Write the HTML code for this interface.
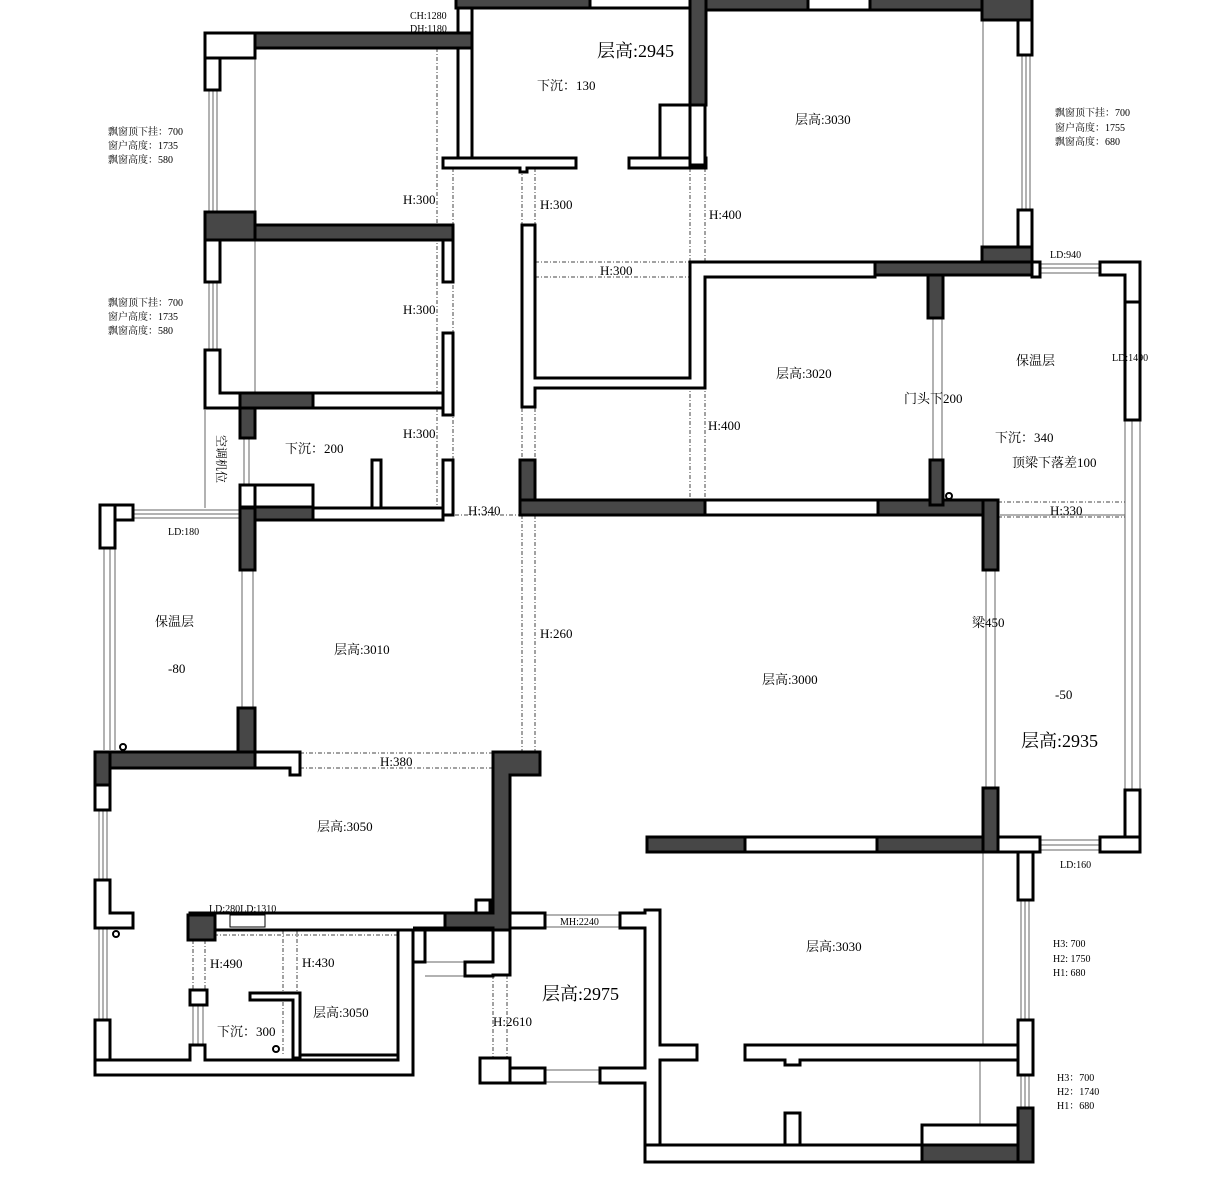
<!DOCTYPE html>
<html><head><meta charset="utf-8"><style>
body{margin:0;background:#fff}
svg{display:block}
.w{fill:#fff;stroke:#000;stroke-width:3}
.d{fill:#474747;stroke:#000;stroke-width:3}
.th{stroke:#666;stroke-width:1;fill:none}
.ds{stroke:#444;stroke-width:1;fill:none;stroke-dasharray:4 2 1 2}
text{font-family:"Liberation Serif","Noto Serif CJK SC",serif;fill:#000;font-size:13px}
.s{font-size:10px}
.b{font-size:18px}
</style></head><body>
<svg width="1221" height="1182" viewBox="0 0 1221 1182" xmlns="http://www.w3.org/2000/svg">
<!-- thin lines / windows -->
<g class="th">
<line x1="983" y1="10" x2="983" y2="248"/>
<line x1="1022" y1="55" x2="1022" y2="210"/><line x1="1026" y1="55" x2="1026" y2="210"/><line x1="1030" y1="55" x2="1030" y2="210"/>
<line x1="209" y1="90" x2="209" y2="212"/><line x1="213" y1="90" x2="213" y2="212"/><line x1="217" y1="90" x2="217" y2="212"/>
<line x1="255" y1="58" x2="255" y2="212"/>
<line x1="209" y1="282" x2="209" y2="350"/><line x1="213" y1="282" x2="213" y2="350"/><line x1="217" y1="282" x2="217" y2="350"/>
<line x1="255" y1="240" x2="255" y2="393"/>
<line x1="205" y1="410" x2="205" y2="508"/>
<line x1="244" y1="438" x2="244" y2="485"/><line x1="249" y1="438" x2="249" y2="485"/>
<line x1="1032" y1="264" x2="1100" y2="264"/><line x1="1032" y1="268" x2="1100" y2="268"/><line x1="1032" y1="273" x2="1100" y2="273"/>
<line x1="1125" y1="420" x2="1125" y2="790"/><line x1="1132" y1="420" x2="1132" y2="790"/><line x1="1140" y1="420" x2="1140" y2="790"/>
<line x1="933" y1="318" x2="933" y2="460"/><line x1="942" y1="318" x2="942" y2="460"/>
<line x1="133" y1="510" x2="240" y2="510"/><line x1="133" y1="514" x2="240" y2="514"/><line x1="133" y1="518" x2="240" y2="518"/>
<line x1="104" y1="548" x2="104" y2="750"/><line x1="110" y1="548" x2="110" y2="750"/><line x1="115" y1="548" x2="115" y2="750"/>
<line x1="242" y1="570" x2="242" y2="708"/><line x1="253" y1="570" x2="253" y2="708"/>
<line x1="986" y1="570" x2="986" y2="790"/><line x1="995" y1="570" x2="995" y2="790"/>
<line x1="99" y1="810" x2="99" y2="880"/><line x1="103" y1="810" x2="103" y2="880"/><line x1="107" y1="810" x2="107" y2="880"/>
<line x1="99" y1="928" x2="99" y2="1020"/><line x1="103" y1="928" x2="103" y2="1020"/><line x1="107" y1="928" x2="107" y2="1020"/>
<line x1="1040" y1="840" x2="1100" y2="840"/><line x1="1040" y1="845" x2="1100" y2="845"/><line x1="1040" y1="850" x2="1100" y2="850"/>
<line x1="1021" y1="900" x2="1021" y2="1020"/><line x1="1025" y1="900" x2="1025" y2="1020"/><line x1="1029" y1="900" x2="1029" y2="1020"/>
<line x1="1021" y1="1075" x2="1021" y2="1108"/><line x1="1025" y1="1075" x2="1025" y2="1108"/><line x1="1029" y1="1075" x2="1029" y2="1108"/>
<line x1="983" y1="852" x2="983" y2="1045"/><line x1="980" y1="1060" x2="980" y2="1125"/>
<line x1="545" y1="915" x2="620" y2="915"/><line x1="545" y1="927" x2="620" y2="927"/>
<line x1="545" y1="1070" x2="600" y2="1070"/><line x1="545" y1="1082" x2="600" y2="1082"/>
<line x1="425" y1="962" x2="465" y2="962"/><line x1="425" y1="976" x2="465" y2="976"/>
<line x1="193" y1="1005" x2="193" y2="1045"/><line x1="198" y1="1005" x2="198" y2="1045"/><line x1="203" y1="1005" x2="203" y2="1045"/>
<line x1="1000" y1="515" x2="1125" y2="515"/>
</g>
<g class="ds">
<line x1="437" y1="48" x2="437" y2="508"/><line x1="453" y1="168" x2="453" y2="515"/>
<line x1="522" y1="168" x2="522" y2="225"/><line x1="535" y1="168" x2="535" y2="380"/>
<line x1="690" y1="168" x2="690" y2="262"/><line x1="705" y1="168" x2="705" y2="262"/>
<line x1="535" y1="262" x2="690" y2="262"/><line x1="535" y1="277" x2="690" y2="277"/>
<line x1="690" y1="385" x2="690" y2="500"/><line x1="705" y1="277" x2="705" y2="500"/>
<line x1="522" y1="408" x2="522" y2="460"/><line x1="535" y1="408" x2="535" y2="460"/>
<line x1="522" y1="515" x2="522" y2="752"/><line x1="535" y1="515" x2="535" y2="752"/>
<line x1="998" y1="502" x2="1125" y2="502"/><line x1="998" y1="517" x2="1125" y2="517"/>
<line x1="300" y1="753" x2="495" y2="753"/><line x1="300" y1="768" x2="495" y2="768"/>
<line x1="205" y1="935" x2="398" y2="935"/><line x1="193" y1="940" x2="193" y2="995"/><line x1="205" y1="940" x2="205" y2="995"/>
<line x1="283" y1="930" x2="283" y2="1055"/><line x1="297" y1="930" x2="297" y2="995"/>
<line x1="493" y1="930" x2="493" y2="1058"/><line x1="507" y1="930" x2="507" y2="1058"/>
<line x1="455" y1="515" x2="520" y2="515"/>
</g>
<!-- walls -->
<g>
<rect class="d" x="456" y="-3" width="134" height="11"/>
<rect class="w" x="590" y="-3" width="100" height="11"/>
<rect class="d" x="690" y="-3" width="16" height="108"/>
<rect class="d" x="706" y="-3" width="102" height="13"/>
<rect class="w" x="808" y="-3" width="62" height="13"/>
<rect class="d" x="870" y="-3" width="112" height="13"/>
<rect class="d" x="982" y="-3" width="50" height="23"/>
<rect class="w" x="1018" y="20" width="14" height="35"/>
<rect class="w" x="1018" y="210" width="14" height="37"/>
<rect class="d" x="982" y="247" width="50" height="28"/>
<rect class="w" x="458" y="8" width="14" height="152"/>
<path class="w" d="M443,158 H576 V168 H527 V172 H520 V168 H443 Z"/>
<path class="w" d="M629,158 H706 V168 H629 Z"/>
<rect class="w" x="660" y="105" width="30" height="53"/>
<rect class="w" x="690" y="105" width="15" height="60"/>
<rect class="w" x="205" y="33" width="50" height="25"/>
<rect class="d" x="255" y="33" width="217" height="15"/>
<rect class="w" x="205" y="58" width="15" height="32"/>
<rect class="d" x="205" y="212" width="50" height="28"/>
<rect class="d" x="255" y="225" width="198" height="15"/>
<rect class="w" x="443" y="240" width="10" height="42"/>
<rect class="w" x="443" y="333" width="10" height="82"/>
<rect class="w" x="443" y="460" width="10" height="55"/>
<rect class="w" x="205" y="240" width="15" height="42"/>
<path class="w" d="M205,350 H220 V393 H443 V408 H205 Z"/>
<rect class="w" x="313" y="393" width="130" height="15"/>
<rect class="d" x="240" y="393" width="73" height="15"/>
<rect class="d" x="240" y="408" width="15" height="30"/>
<rect class="w" x="240" y="485" width="15" height="22"/>
<rect class="w" x="255" y="485" width="58" height="22"/>
<rect class="w" x="372" y="460" width="9" height="55"/>
<rect class="w" x="255" y="508" width="188" height="12"/>
<rect class="d" x="240" y="507" width="73" height="13"/>
<path class="w" d="M522,225 H535 V378 H690 V262 H875 V277 H705 V388 H535 V407 H522 Z"/>
<rect class="d" x="875" y="262" width="157" height="13"/>
<rect class="d" x="928" y="275" width="15" height="43"/>
<path class="w" d="M1032,262 H1040 V277 H1032 Z"/>
<path class="w" d="M1100,262 H1140 V302 H1125 V275 H1100 Z"/>
<rect class="w" x="1125" y="302" width="15" height="118"/>
<rect class="d" x="520" y="460" width="15" height="55"/>
<rect class="d" x="520" y="500" width="185" height="15"/>
<rect class="w" x="705" y="500" width="173" height="15"/>
<rect class="d" x="878" y="500" width="120" height="15"/>
<rect class="d" x="930" y="460" width="13" height="45"/>
<rect class="d" x="983" y="500" width="15" height="70"/>
<rect class="w" x="100" y="505" width="33" height="15"/>
<rect class="w" x="100" y="505" width="15" height="43"/>
<rect class="d" x="240" y="508" width="15" height="62"/>
<rect class="d" x="238" y="708" width="17" height="52"/>
<rect class="d" x="95" y="752" width="160" height="16"/>
<rect class="d" x="95" y="752" width="15" height="33"/>
<path class="w" d="M255,752 H300 V775 H290 V768 H255 Z"/>
<path class="d" d="M493,752 H540 V775 H510 V930 H445 V913 H493 Z"/>
<rect class="w" x="95" y="785" width="15" height="25"/>
<path class="w" d="M95,880 H110 V913 H133 V928 H95 Z"/>
<rect class="w" x="95" y="1020" width="15" height="40"/>
<path class="w" d="M95,1060 H190 V1045 H205 V1060 H398 V930 H413 V1075 H95 Z"/>
<rect class="w" x="190" y="913" width="255" height="17"/>
<rect class="d" x="188" y="915" width="27" height="25"/>
<rect class="w" x="230" y="915" width="35" height="12" style="stroke-width:1"/>
<rect class="w" x="190" y="990" width="17" height="15"/>
<path class="w" d="M250,993 H300 V1058 H293 V1000 H250 Z"/>
<rect class="w" x="300" y="1055" width="98" height="5"/>
<rect class="d" x="647" y="837" width="98" height="15"/>
<rect class="w" x="745" y="837" width="132" height="15"/>
<rect class="d" x="877" y="837" width="121" height="15"/>
<rect class="d" x="983" y="788" width="15" height="64"/>
<rect class="w" x="998" y="837" width="42" height="15"/>
<rect class="w" x="1018" y="852" width="15" height="48"/>
<path class="w" d="M1100,837 H1140 V790 H1125 V852 H1100 Z"/>
<rect class="w" x="1125" y="790" width="15" height="62"/>
<rect class="w" x="1100" y="837" width="40" height="15"/>
<rect class="w" x="510" y="913" width="35" height="15"/>
<path class="w" d="M620,913 H645 V910 H660 V1045 H697 V1060 H660 V1160 H645 V1083 H600 V1068 H645 V928 H620 Z"/>
<rect class="w" x="510" y="1068" width="35" height="15"/>
<rect class="w" x="480" y="1058" width="30" height="25"/>
<path class="w" d="M413,928 H493 V962 H465 V976 H493 V975 H510 V930 H493 Z"/>
<path class="w" d="M413,930 H425 V962 H413 Z"/>
<path class="w" d="M745,1045 H1018 V1060 H800 V1065 H785 V1060 H745 Z"/>
<rect class="w" x="785" y="1113" width="15" height="35"/>
<rect class="w" x="645" y="1145" width="290" height="17"/>
<rect class="w" x="922" y="1125" width="96" height="20"/>
<rect class="d" x="922" y="1145" width="111" height="17"/>
<rect class="d" x="1018" y="1108" width="15" height="54"/>
<rect class="w" x="1018" y="1020" width="15" height="55"/>
<path class="w" d="M476,900 H490 V913 H476 Z"/>
</g>
<g fill="none" stroke="#000" stroke-width="2">
<circle cx="123" cy="747" r="3"/><circle cx="116" cy="934" r="3"/><circle cx="949" cy="496" r="3"/><circle cx="276" cy="1049" r="3"/>
</g>
<!-- text -->
<g>
<text class="s" x="410" y="19">CH:1280</text><text class="s" x="410" y="32">DH:1180</text>
<text class="b" x="597" y="57">层高:2945</text>
<text x="537" y="90">下沉：130</text>
<text x="795" y="124">层高:3030</text>
<text class="s" x="108" y="135">飘窗顶下挂：700</text><text class="s" x="108" y="149">窗户高度：1735</text><text class="s" x="108" y="163">飘窗高度：580</text>
<text class="s" x="1055" y="116">飘窗顶下挂：700</text><text class="s" x="1055" y="131">窗户高度：1755</text><text class="s" x="1055" y="145">飘窗高度：680</text>
<text x="403" y="204">H:300</text><text x="540" y="209">H:300</text><text x="709" y="219">H:400</text><text x="600" y="275">H:300</text>
<text class="s" x="108" y="306">飘窗顶下挂：700</text><text class="s" x="108" y="320">窗户高度：1735</text><text class="s" x="108" y="334">飘窗高度：580</text>
<text x="403" y="314">H:300</text>
<text class="s" x="1050" y="258">LD:940</text><text class="s" x="1112" y="361">LD:1490</text>
<text x="776" y="378">层高:3020</text><text x="1016" y="365">保温层</text><text x="904" y="403">门头下200</text>
<text x="995" y="442">下沉：340</text><text x="1012" y="467">顶梁下落差100</text>
<text x="708" y="430">H:400</text><text x="403" y="438">H:300</text><text x="285" y="453">下沉：200</text>
<text x="217" y="435" transform="rotate(90 217 435)" class="s" style="font-size:12px">空调机位</text>
<text x="468" y="515">H:340</text><text x="1050" y="515">H:330</text><text class="s" x="168" y="535">LD:180</text>
<text x="155" y="626">保温层</text><text x="168" y="673">-80</text>
<text x="334" y="654">层高:3010</text><text x="540" y="638">H:260</text><text x="762" y="684">层高:3000</text>
<text x="972" y="627">梁450</text><text x="1055" y="699">-50</text><text class="b" x="1021" y="747">层高:2935</text>
<text x="380" y="766">H:380</text><text x="317" y="831">层高:3050</text>
<text class="s" x="209" y="912">LD:280LD:1310</text>
<text class="s" x="1060" y="868">LD:160</text>
<text class="s" x="560" y="925">MH:2240</text>
<text x="806" y="951">层高:3030</text>
<text class="s" x="1053" y="947">H3: 700</text><text class="s" x="1053" y="962">H2: 1750</text><text class="s" x="1053" y="976">H1: 680</text>
<text x="210" y="968">H:490</text><text x="302" y="967">H:430</text>
<text class="b" x="542" y="1000">层高:2975</text>
<text x="313" y="1017">层高:3050</text><text x="217" y="1036">下沉：300</text><text x="493" y="1026">H:2610</text>
<text class="s" x="1057" y="1081">H3：700</text><text class="s" x="1057" y="1095">H2：1740</text><text class="s" x="1057" y="1109">H1：680</text>
</g>
</svg>
</body></html>
